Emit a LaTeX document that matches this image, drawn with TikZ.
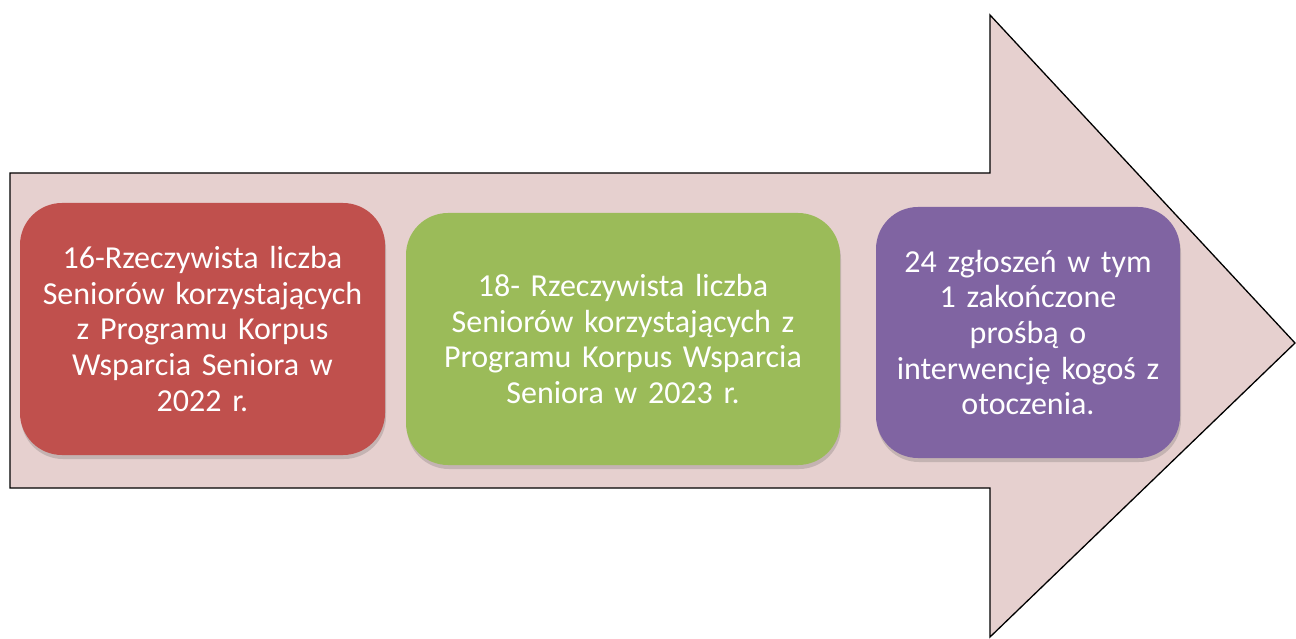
\documentclass[tikz,border=0pt]{standalone}
\usepackage{fontspec}
\setmainfont{Carlito}
\usetikzlibrary{shadows,calc}
\definecolor{arrowfill}{HTML}{E6D0CF}
\definecolor{boxred}{HTML}{C0504D}
\definecolor{boxgreen}{HTML}{9BBB59}
\definecolor{boxpurple}{HTML}{8064A2}
\tikzset{
  x=1pt,y=1pt,
  card/.style={rounded corners=42pt, draw=none, text=white, align=center,
    font=\fontsize{32}{35.7}\selectfont,
    drop shadow={shadow xshift=1pt, shadow yshift=-4pt, opacity=0.22, fill=black!70}},
  bigarrow/.style={draw=black, line width=1.3pt, fill=arrowfill, line join=miter}
}
\begin{document}
\begin{tikzpicture}
\useasboundingbox (0,0) rectangle (1296,-639);
\draw[bigarrow] (10,-173) -- (990,-173) -- (990,-15) -- (1295,-343) -- (990,-637) -- (990,-488) -- (10,-488) -- cycle;
\node[card, fill=boxred, minimum width=365pt, minimum height=252pt, text width=350pt] (a) at (202.5,-329)
  {16-Rzeczywista liczba\\Seniorów korzystających\\z Programu Korpus\\Wsparcia Seniora w\\2022 r.};
\node[card, fill=boxgreen, minimum width=434pt, minimum height=252pt, text width=420pt] (b) at (623,-339)
  {18- Rzeczywista liczba\\Seniorów korzystających z\\Programu Korpus Wsparcia\\Seniora w 2023 r.};
\node[card, fill=boxpurple, minimum width=304pt, minimum height=251pt, text width=295pt] (c) at (1028,-332.5)
  {24 zgłoszeń w tym\\1 zakończone\\prośbą o\\interwencję kogoś z\\otoczenia.};
\end{tikzpicture}
\end{document}
